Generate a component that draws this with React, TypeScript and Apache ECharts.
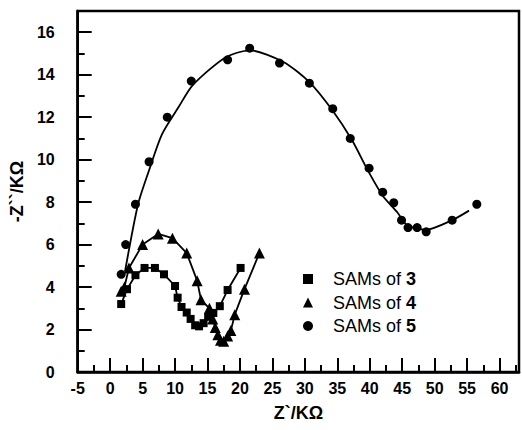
import React, { useEffect, useRef } from "react";
import * as echarts from "echarts";

const sams3: number[][] = [
  [1.7, 3.2], [2.6, 3.9], [3.9, 4.56], [5.3, 4.9], [6.9, 4.9], [8.3, 4.6],
  [10.0, 4.05], [10.4, 3.5], [11.0, 3.06], [11.8, 2.8], [12.4, 2.5], [13.1, 2.2],
  [13.7, 2.15], [14.4, 2.3], [15.1, 2.6], [15.9, 2.78], [16.9, 3.1], [18.1, 3.86],
  [20.1, 4.9],
];
const sams4: number[][] = [
  [1.7, 3.8], [2.2, 4.0], [2.9, 4.9], [5.0, 6.0], [7.4, 6.5], [9.6, 6.3],
  [11.8, 5.6], [13.4, 4.3], [14.0, 3.4], [15.3, 3.0], [15.8, 2.5], [16.2, 2.1],
  [16.6, 1.75], [17.0, 1.5], [17.5, 1.45], [18.1, 1.7], [18.6, 1.95], [19.2, 2.7],
  [20.7, 3.9], [23.0, 5.6],
];
const sams5: number[][] = [
  [1.7, 4.6], [2.4, 6.0], [3.9, 7.9], [6.0, 9.9], [8.8, 12.0], [12.5, 13.7],
  [18.1, 14.7], [21.5, 15.25], [26.1, 14.55], [30.7, 13.6], [34.3, 12.4], [37.0, 11.0],
  [39.9, 9.6], [42.0, 8.47], [43.7, 7.97], [44.9, 7.15], [45.9, 6.8], [47.3, 6.8],
  [48.7, 6.6], [52.7, 7.15], [56.5, 7.9],
];
const fit5: number[][] = [
  [2.3, 4.75], [4.3, 7.9], [6.0, 9.5], [8.0, 11.2], [10.6, 12.5], [12.7, 13.5],
  [17.7, 14.8], [21.5, 15.15], [26.7, 14.6], [30.7, 13.65], [34.3, 12.3], [37.3, 10.9],
  [39.7, 9.5], [42.0, 8.3], [44.3, 7.5], [45.8, 6.9], [48.7, 6.7], [52.7, 7.15],
  [55.3, 7.6],
];
const legendNames = ["SAMs of 3", "SAMs of 4", "SAMs of 5"];
const legendIcons = ["rect", "triangle", "circle"];
const xName = "Z`/KΩ";
const yName = "-Z``/KΩ";

const FONT = 'Arial, "Liberation Sans", sans-serif';

export default function App() {
  const ref = useRef<HTMLDivElement>(null);
  useEffect(() => {
    if (!ref.current) return;
    const chart = echarts.init(ref.current, null, { renderer: "svg" });
    const axisLine = { show: true, onZero: false, lineStyle: { color: "#000", width: 2.5 } };
    chart.setOption({
      animation: false,
      backgroundColor: "#fff",
      grid: {
        left: 77,
        top: 11,
        right: -5,
        bottom: 58,
        show: true,
        borderColor: "#000",
        borderWidth: 2.5,
        containLabel: false,
      },
      legend: {
        orient: "vertical",
        left: 298,
        top: 265,
        itemWidth: 10,
        itemHeight: 10,
        itemGap: 5.5,
        symbolKeepAspect: true,
        data: legendNames.map((n, i) => ({ name: n, icon: legendIcons[i] })),
        formatter: (name: string) => {
          const idx = name.lastIndexOf(" ");
          return "{a|" + name.slice(0, idx + 1) + "}{b|" + name.slice(idx + 1) + "}";
        },
        textStyle: {
          fontFamily: FONT,
          fontSize: 18,
          lineHeight: 18,
          color: "#000",
          padding: [0, 0, 0, 15],
          rich: {
            a: { fontFamily: FONT, fontSize: 18, color: "#000" },
            b: { fontFamily: FONT, fontSize: 18, fontWeight: "bold", color: "#000" },
          },
        },
        itemStyle: { color: "#000", opacity: 1 },
      },
      xAxis: [
        {
          type: "value",
          min: -5,
          max: 63,
          interval: 5,
          position: "bottom",
          name: xName,
          nameLocation: "middle",
          nameGap: 32,
          nameTextStyle: { fontFamily: FONT, fontSize: 18, fontWeight: "bold", color: "#000" },
          axisLine,
          axisTick: { show: true, inside: true, length: 14, lineStyle: { color: "#000", width: 2 } },
          axisLabel: {
            fontFamily: FONT,
            fontSize: 16,
            fontWeight: "bold",
            color: "#000",
            margin: 8,
            formatter: (v: number) => (v % 5 === 0 ? String(v) : ""),
          },
          splitLine: { show: false },
        },
        {
          type: "value",
          min: -5,
          max: 63,
          interval: 2.5,
          position: "bottom",
          axisLine: { show: false, onZero: false },
          axisTick: { show: true, inside: true, length: 7, lineStyle: { color: "#000", width: 2 } },
          axisLabel: { show: false },
          splitLine: { show: false },
        },
      ],
      yAxis: [
        {
          type: "value",
          min: 0,
          max: 17,
          interval: 2,
          position: "left",
          name: yName,
          nameLocation: "middle",
          nameGap: 48,
          nameRotate: 90,
          nameTextStyle: { fontFamily: FONT, fontSize: 18, fontWeight: "bold", color: "#000" },
          axisLine,
          axisTick: { show: true, inside: true, length: 14, lineStyle: { color: "#000", width: 2 } },
          axisLabel: {
            fontFamily: FONT,
            fontSize: 16,
            fontWeight: "bold",
            color: "#000",
            margin: 23,
            formatter: (v: number) => (v % 2 === 0 ? String(v) : ""),
          },
          splitLine: { show: false },
        },
        {
          type: "value",
          min: 0,
          max: 17,
          interval: 1,
          position: "left",
          axisLine: { show: false, onZero: false },
          axisTick: { show: true, inside: true, length: 7, lineStyle: { color: "#000", width: 2 } },
          axisLabel: { show: false },
          splitLine: { show: false },
        },
      ],
      series: [
        {
          name: legendNames[0],
          type: "line",
          data: sams3,
          symbol: "rect",
          symbolSize: 8,
          showSymbol: true,
          lineStyle: { color: "#000", width: 1.8 },
          itemStyle: { color: "#000", opacity: 1 },
        },
        {
          name: legendNames[1],
          type: "line",
          data: sams4,
          symbol: "triangle",
          symbolSize: 11,
          showSymbol: true,
          lineStyle: { color: "#000", width: 1.8 },
          itemStyle: { color: "#000", opacity: 1 },
        },
        {
          type: "line",
          data: fit5,
          showSymbol: false,
          smooth: 0.25,
          lineStyle: { color: "#000", width: 1.8 },
          itemStyle: { color: "#000" },
        },
        {
          name: legendNames[2],
          type: "scatter",
          data: sams5,
          symbol: "circle",
          symbolSize: 9,
          itemStyle: { color: "#000", opacity: 1 },
        },
      ],
    });
    return () => chart.dispose();
  }, []);
  return (
    <div
      ref={ref}
      style={{ position: "absolute", left: 0, top: 0, width: 522, height: 430 }}
    />
  );
}
